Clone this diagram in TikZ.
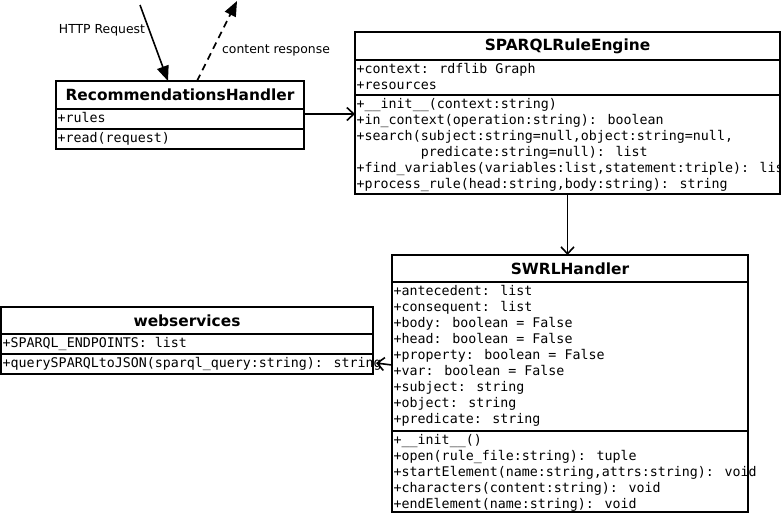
\documentclass[tikz,border=0pt]{standalone}
\usepackage{fontspec}
\setmainfont{DejaVu Sans}
\newfontfamily\umlmono{DejaVu Sans Mono}
\usetikzlibrary{positioning,arrows.meta}

\tikzset{
  umlbox/.style={draw, line width=1.7pt, inner sep=0pt, outer sep=0pt, anchor=north west},
  umltitle/.style={umlbox, font=\bfseries\fontsize{15.4}{18}\selectfont},
  umltext/.style={inner sep=0pt, anchor=north west, align=left,
    font=\umlmono\fontsize{13.3}{16}\selectfont},
  assoc/.style={line width=1.6pt, -{Straight Barb[length=7pt,width=13pt]}},
  request/.style={line width=1.6pt, -{Triangle[length=15pt,width=12pt]}},
  msglabel/.style={font=\fontsize{12.4}{14}\selectfont},
}

\begin{document}
\begin{tikzpicture}[x=1pt,y=-1pt]
  \useasboundingbox (0,0) rectangle (781,515);

  % RecommendationsHandler
  \node[umltitle, minimum width=248, minimum height=28] (rec) at (56,81) {RecommendationsHandler};
  \node[umlbox, minimum width=248, minimum height=20, below=0pt of rec] (rec-attr) {};
  \node[umlbox, minimum width=248, minimum height=20, below=0pt of rec-attr] (rec-meth) {};
  \node[umltext] (rec-attr-t) at ([xshift=1.5pt,yshift=-3.5pt]rec-attr.north west) {+rules};
  \node[umltext] (rec-meth-t) at ([xshift=1.5pt,yshift=-3.5pt]rec-meth.north west) {+read(request)};

  % SPARQLRuleEngine
  \node[umltitle, minimum width=425, minimum height=28] (sparql) at (355,32) {SPARQLRuleEngine};
  \node[umlbox, minimum width=425, minimum height=35, below=0pt of sparql] (sparql-attr) {};
  \node[umlbox, minimum width=425, minimum height=99, below=0pt of sparql-attr] (sparql-meth) {};
  \node[umltext] (sparql-attr-t) at ([xshift=1.5pt,yshift=-3.5pt]sparql-attr.north west)
    {+context: rdflib Graph\\+resources};
  \node[umltext] (sparql-meth-t) at ([xshift=1.5pt,yshift=-3.5pt]sparql-meth.north west)
    {+\_\_init\_\_(context:string)\\
     +in\_context(operation:string): boolean\\
     +search(subject:string=null,object:string=null,\\
     \phantom{+search(}predicate:string=null): list\\
     +find\_variables(variables:list,statement:triple): list\\
     +process\_rule(head:string,body:string): string};

  % SWRLHandler
  \node[umltitle, minimum width=356, minimum height=27] (swrl) at (392,255) {SWRLHandler};
  \node[umlbox, minimum width=356, minimum height=149, below=0pt of swrl] (swrl-attr) {};
  \node[umlbox, minimum width=356, minimum height=81, below=0pt of swrl-attr] (swrl-meth) {};
  \node[umltext] (swrl-attr-t) at ([xshift=1.5pt,yshift=-3.5pt]swrl-attr.north west)
    {+antecedent: list\\
     +consequent: list\\
     +body: boolean = False\\
     +head: boolean = False\\
     +property: boolean = False\\
     +var: boolean = False\\
     +subject: string\\
     +object: string\\
     +predicate: string};
  \node[umltext] (swrl-meth-t) at ([xshift=1.5pt,yshift=-3pt]swrl-meth.north west)
    {+\_\_init\_\_()\\
     +open(rule\_file:string): tuple\\
     +startElement(name:string,attrs:string): void\\
     +characters(content:string): void\\
     +endElement(name:string): void};

  % webservices
  \node[umltitle, minimum width=372, minimum height=27] (web) at (1,307) {webservices};
  \node[umlbox, minimum width=372, minimum height=20, below=0pt of web] (web-attr) {};
  \node[umlbox, minimum width=372, minimum height=20, below=0pt of web-attr] (web-meth) {};
  \node[umltext] (web-attr-t) at ([xshift=1.5pt,yshift=-3.5pt]web-attr.north west) {+SPARQL\_ENDPOINTS: list};
  \node[umltext] (web-meth-t) at ([xshift=1.5pt,yshift=-3.5pt]web-meth.north west)
    {+querySPARQLtoJSON(sparql\_query:string): string};

  % request / response
  \coordinate (http-src) at (140,5);
  \coordinate (resp-dst) at (237,1);
  \draw[request] (http-src) -- ([xshift=-12pt]rec.north);
  \draw[request, dash pattern=on 7pt off 5pt] ([xshift=17pt]rec.north) -- (resp-dst);
  \node[msglabel] (http-label) at (102,30) {HTTP Request};
  \node[msglabel] (resp-label) at (276,50) {content response};

  % associations
  \draw[assoc] ([yshift=5pt]rec-attr.east) -- ([yshift=5pt]rec-attr.east -| sparql.west);
  \draw[assoc] (sparql-meth.south) -- (sparql-meth.south |- swrl.north);
  \draw[assoc] ([yshift=-1pt]swrl-attr.west |- web-meth.east) -- ([xshift=3pt,yshift=1pt]web-meth.east);
\end{tikzpicture}
\end{document}
